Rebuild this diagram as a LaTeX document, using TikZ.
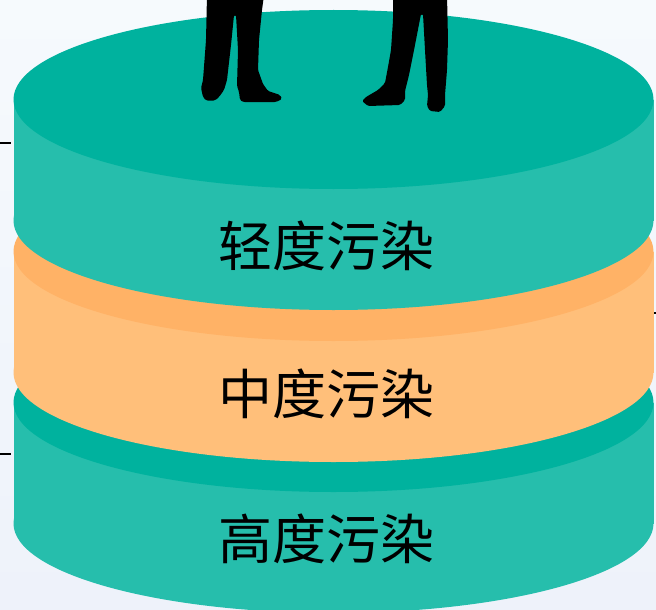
\documentclass[tikz,border=0pt]{standalone}
\usepackage{fontspec}
\newfontfamily\cjk{Noto Sans CJK SC}
\definecolor{bgtop}{HTML}{F6FAFD}
\definecolor{bgbot}{HTML}{EEF2FA}
\definecolor{tealtop}{HTML}{00B29E}
\definecolor{tealside}{HTML}{26BEAC}
\definecolor{orangetop}{HTML}{FFB266}
\definecolor{orangeside}{HTML}{FFBF7A}
% draws one disc: #1 = centre y of the top face, #2 = side colour, #3 = top colour
\newcommand\stackdisc[3]{%
  \fill[#2] (13.5,#1) rectangle (653.5,#1+121);
  \fill[#2] (333.5,#1+121) ellipse [x radius=320, y radius=89.5];
  \fill[#3] (333.5,#1) ellipse [x radius=320, y radius=89.5];
}
\begin{document}
\begin{tikzpicture}[x=1pt,y=-1pt,
  levellabel/.style={font=\cjk\fontsize{54}{60}\selectfont, inner sep=0pt, text=black},
  tickline/.style={line width=2pt, draw=black},
  person/.style={fill=black, rounded corners=1.5pt}]
\useasboundingbox (0,0) rectangle (656,610);
\clip (0,0) rectangle (656,610);
% background, whiter at the top
\shade[top color=bgtop, bottom color=bgbot] (0,610) rectangle (656,0);
% small marks at the edges
\coordinate (m1a) at (0,143);   \coordinate (m1b) at (11,143);
\coordinate (m2a) at (0,454);   \coordinate (m2b) at (11,454);
\coordinate (m3a) at (653,313); \coordinate (m3b) at (656,313);
\draw[tickline] (m1a) -- (m1b);
\draw[tickline] (m2a) -- (m2b);
\draw[tickline] (m3a) -- (m3b);
% the three stacked discs, bottom first
\stackdisc{402.5}{tealside}{tealtop}
\stackdisc{251.5}{orangeside}{orangetop}
\stackdisc{99.5}{tealside}{tealtop}
% labels
\node[levellabel] (light)  at (326,246) {轻度污染};
\node[levellabel] (medium) at (326,394) {中度污染};
\node[levellabel] (heavy)  at (326,539) {高度污染};
% two figures standing on the top disc
\fill[person] (207,-5) -- (206,40) -- (203,80) -- (201,88) -- (203,97) -- (206,100.5)
  -- (215,100.5) -- (219,97) -- (224,90) -- (227,80) -- (231,45) -- (234,15)
  -- (236,15) -- (238,50) -- (237,86) -- (239,92) -- (240,100) -- (243,102)
  -- (276,102) -- (282,99) -- (280,95) -- (268,91) -- (263,84) -- (258,70)
  -- (259,40) -- (262,10) -- (264,-5) -- cycle;
\fill[person] (393,-5) -- (393,20) -- (391,50) -- (388,67) -- (385,83) -- (378,90)
  -- (366,97) -- (362,101) -- (368,106) -- (400,105) -- (405,100) -- (405,91)
  -- (409,75) -- (415,45) -- (421,14) -- (423,14) -- (425,50) -- (427,85)
  -- (428,95) -- (427,106) -- (430,111) -- (440,112) -- (445,106) -- (445,95)
  -- (447,70) -- (448,40) -- (447,-5) -- cycle;
\end{tikzpicture}
\end{document}
